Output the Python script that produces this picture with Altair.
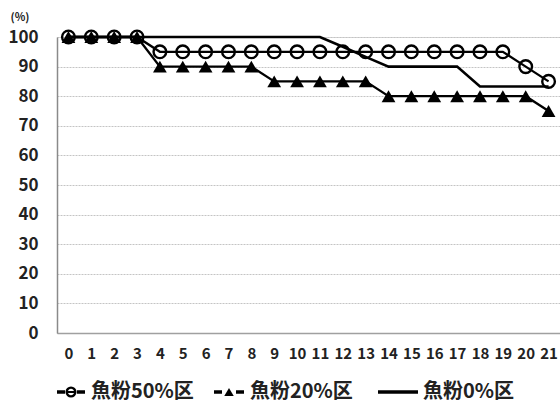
import altair as alt
import pandas as pd

days = list(range(22))
fish50 = [100, 100, 100, 100, 95, 95, 95, 95, 95, 95, 95, 95, 95, 95, 95, 95, 95, 95, 95, 95, 90, 85]
fish20 = [100, 100, 100, 100, 90, 90, 90, 90, 90, 85, 85, 85, 85, 85, 80, 80, 80, 80, 80, 80, 80, 75]
fish0 = [100, 100, 100, 100, 100, 100, 100, 100, 100, 100, 100, 100, 96.7, 93.3, 90, 90, 90, 90, 83.3, 83.3, 83.3, 83.3]
y_ticks = [0, 10, 20, 30, 40, 50, 60, 70, 80, 90, 100]
legend_labels = ["魚粉50%区", "魚粉20%区", "魚粉0%区"]

FONT = "Noto Sans CJK JP"
W, H = 503, 296

df = pd.DataFrame({"day": days, "f50": fish50, "f20": fish20, "f0": fish0})

xs = alt.X("day:O", scale=alt.Scale(type="point", padding=0.5),
           axis=alt.Axis(title=None, labelAngle=0, tickSize=0, labelPadding=13,
                         labelFont=FONT, labelFontSize=15, labelFontWeight="bold",
                         labelColor="#222", domainColor="#a0a0a0", domainWidth=1.5,
                         grid=False))

yaxis = alt.Axis(title=None, values=y_ticks, tickSize=0, labelPadding=19,
                 labelFont=FONT, labelFontSize=17, labelFontWeight="bold",
                 labelColor="#222", domainColor="#8a8a8a", domainWidth=1.5,
                 grid=True, gridColor="#c4c4c4", gridWidth=1.2, gridDash=[2, 1])
yscale = alt.Scale(domain=[0, 100], nice=False, zero=True)

def yenc(field):
    return alt.Y(f"{field}:Q", scale=yscale, axis=yaxis)

base = alt.Chart(df)

line20 = base.mark_line(color="black", strokeWidth=2.3).encode(x=xs, y=yenc("f20"))
pts20 = base.mark_point(shape="triangle-up", filled=True, color="black", size=190, opacity=1).encode(x=xs, y=yenc("f20"))
line50 = base.mark_line(color="black", strokeWidth=2.3).encode(x=xs, y=yenc("f50"))
pts50 = base.mark_point(shape="circle", filled=False, color="black", strokeWidth=2.4, size=160, opacity=1).encode(x=xs, y=yenc("f50"))
line0 = base.mark_line(color="black", strokeWidth=2.6).encode(x=xs, y=yenc("f0"))

# decorations: unit label and legend
one = alt.Chart(pd.DataFrame({"a": [0]}))
LY = H + 59  # legend vertical center (relative to plot top)

unit = one.mark_text(text="(%)", font=FONT, fontSize=11, fontWeight="bold", align="center",
                     baseline="middle", color="#222").encode(x=alt.value(-37), y=alt.value(-19))

TXT = dict(font=FONT, fontSize=20, fontWeight="bold", align="left", baseline="middle", color="#222")
leg = []
# 50%
leg.append(one.mark_rule(color="black", strokeWidth=3.5).encode(x=alt.value(0), x2=alt.value(8), y=alt.value(LY)))
leg.append(one.mark_rule(color="black", strokeWidth=3.5).encode(x=alt.value(20), x2=alt.value(28), y=alt.value(LY)))
leg.append(one.mark_point(shape="circle", filled=False, color="black", strokeWidth=2.4, size=75, opacity=1)
           .encode(x=alt.value(14), y=alt.value(LY)))
leg.append(one.mark_rule(color="black", strokeWidth=2).encode(x=alt.value(9), x2=alt.value(19), y=alt.value(LY)))
leg.append(one.mark_text(text=legend_labels[0], **TXT).encode(x=alt.value(34), y=alt.value(LY)))
# 20%
leg.append(one.mark_rule(color="black", strokeWidth=3.5).encode(x=alt.value(157), x2=alt.value(165), y=alt.value(LY)))
leg.append(one.mark_rule(color="black", strokeWidth=3.5).encode(x=alt.value(179), x2=alt.value(187), y=alt.value(LY)))
leg.append(one.mark_point(shape="triangle-up", filled=True, color="black", size=90, opacity=1)
           .encode(x=alt.value(172), y=alt.value(LY)))
leg.append(one.mark_text(text=legend_labels[1], **TXT).encode(x=alt.value(193), y=alt.value(LY)))
# 0%
leg.append(one.mark_rule(color="black", strokeWidth=3.5).encode(x=alt.value(321), x2=alt.value(361), y=alt.value(LY)))
leg.append(one.mark_text(text=legend_labels[2], **TXT).encode(x=alt.value(366), y=alt.value(LY)))

chart = alt.layer(line20, pts20, line50, pts50, line0, unit, *leg).properties(
    width=W, height=H,
    autosize=alt.AutoSizeParams(type="none"),
    padding={"left": 57, "top": 37, "right": 0, "bottom": 75},
).configure_view(stroke=None).configure(background="white")

chart.save("out.html", embed_options={"renderer": "svg", "actions": False})
